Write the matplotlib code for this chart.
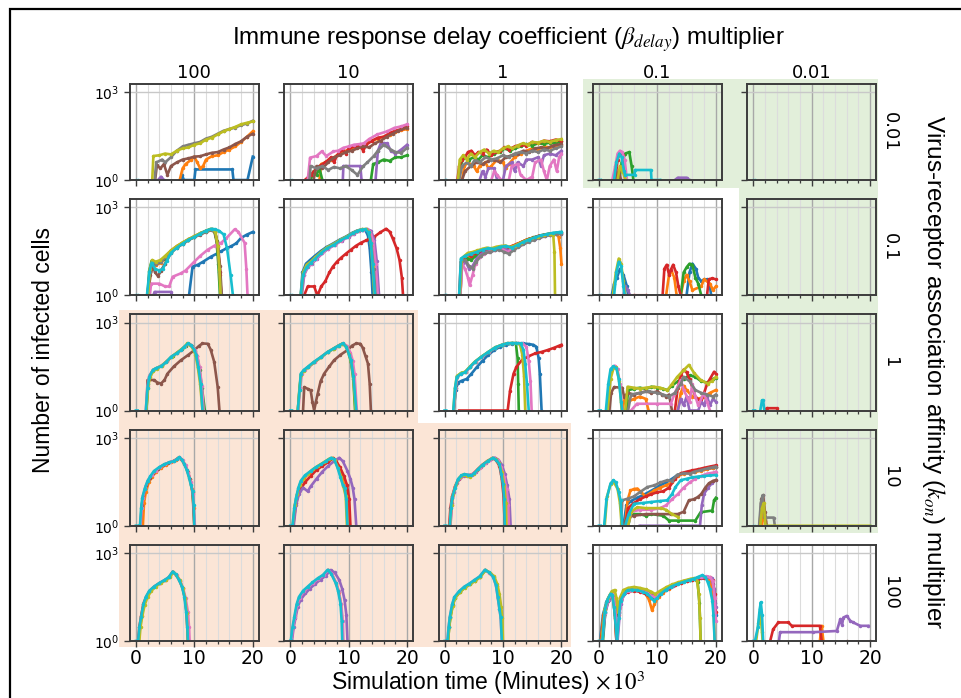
import numpy as np
import matplotlib.pyplot as plt
from matplotlib.patches import Polygon, Rectangle
from matplotlib.ticker import MultipleLocator, NullLocator

GAP = (np.nan, np.nan)

beta_labels = ["100", "10", "1", "0.1", "0.01"]
kon_labels = ["0.01", "0.1", "1", "10", "100"]

# each panel: replicate run -> [(time x10^3 min, infected cells), ...]
# rows: k_on multiplier, columns: beta_delay multiplier

# ---- k_on x0.01 ----
r0c0 = {
    0: [(7.6, 1), (7.9, 1.5), (8.2, 1), (10, 1), (10.2, 2.3), (16.5, 2.3), (16.7, 1), (19.1, 1), (20, 6.3)],
    1: [(7.5, 1), (8, 2.5), (8.5, 3.5), (9.5, 5), (10, 6.3), (10.5, 4), (11, 2.5), (11.5, 3), (12, 5),
        (13, 6.5), (14, 7), (15, 9), (16, 11), (17, 14), (18, 20), (19, 30), (20, 46)],
    4: [(3.8, 1), (4.3, 1.3), (4.8, 1)],
    5: [(3.3, 1), (3.6, 3.2), (4.2, 2.5), (4.8, 3.5), (5.4, 1.5), (6, 3), (7, 4), (8, 5), (9, 5.5), (10, 6.3),
        (11, 6.5), (12, 7.5), (13, 8.5), (14, 9), (15, 11), (16, 13), (17, 17), (18, 21), (19, 30), (20, 38)],
    7: [(3.2, 1), (3.5, 4), (4.5, 5), (5, 4), (6, 6), (7, 10), (8, 14), (9, 16), (10, 18), (11, 20),
        (12, 26), (13, 30), (14, 38), (15, 48), (16, 55), (17, 62), (18, 75), (19, 85), (20, 105)],
    8: [(2.8, 1), (3.0, 6.6), (4, 7), (5, 8), (6, 7.5), (7, 10), (8, 12), (9, 13), (10, 16), (11, 18),
        (12, 24), (13, 28), (14, 36), (15, 46), (16, 55), (17, 65), (18, 80), (19, 90), (20, 100)],
    9: [(0, 1), (0.3, 1)],
}
r0c1 = {
    1: [(5, 1), (5.3, 3.5), (6, 4), (7, 5), (8, 7), (9, 9), (10, 11), (11, 12), (12, 15), (13, 18),
        (14, 22), (15, 26), (16, 30), (17, 35), (18, 42), (19, 50), (20, 55)],
    2: [(3.5, 1), (4, 2), (4.5, 1.5), (5, 2.5), (5.5, 1), GAP, (13.8, 1), (14.2, 3.5), (15, 4), (16, 5),
        (17, 4.5), (18, 6), (19, 6), (20, 7)],
    3: [(2.5, 1), (3.5, 1.5), (4.5, 2.5), (5, 3), (6, 4), (7, 6), (7.5, 4), (8, 7), (9, 11), (9.5, 8),
        (10, 12), (11, 14), (12, 14), (12.5, 10), (13, 16), (14, 22), (15, 28), (16, 30), (17, 40),
        (18, 48), (19, 55), (20, 70)],
    4: [(9, 1), (9.1, 3), (12, 3), (12.2, 1), GAP, (14.6, 1), (15, 10), (15.5, 18), (16.6, 18), (17.2, 10),
        (18, 8), (19, 11), (20, 16)],
    5: [(4, 1), (4.5, 3), (5.5, 2.5), (6.5, 4), (7.5, 6), (8.5, 7), (9.5, 9), (10.5, 10), (11.5, 12),
        (12.5, 14), (13.5, 13), (14.5, 18), (15.5, 22), (16.5, 30), (17.5, 38), (18.5, 48), (20, 62)],
    6: [(3.0, 1), (3.4, 5.8), (4.5, 6.6), (5.4, 9.5), (6.2, 6.6), (7.4, 9.5), (8.2, 10), (9.1, 12.6),
        (10, 14), (10.9, 16), (12, 17), (12.6, 18), (13.5, 25), (14.9, 36), (16.6, 46), (17.8, 60),
        (19, 68), (20, 80)],
    7: [(3.3, 1), (3.5, 3), (4.5, 2.5), (5.5, 3), (6.5, 2.2), (7.5, 2.8), (8.5, 2.5), (9.5, 3), (10.5, 2.2),
        (11.5, 1.5), (12.5, 3), (13.2, 4), (14.3, 6.6), (15, 10), (16, 16), (17.2, 11), (18, 9), (19, 8.5),
        (20, 12.6)],
    9: [(0, 1), (0.3, 1)],
}
r0c2 = {
    1: [(3, 1), (3.4, 3), (4, 4), (5, 3), (5.5, 2), (6, 3), (7, 4), (7.5, 2.5), (8, 3), (9, 5), (10, 4),
        (10.5, 2.5), (11, 3.5), (12, 6), (13, 8), (14, 10), (15, 12), (16, 11), (17, 14), (18, 13), (19, 15),
        (20, 16)],
    2: [(2.4, 1), (2.8, 4), (3.5, 6), (4.2, 5), (5, 6), (5.8, 5), (6.5, 7), (7.5, 6), (8.5, 8), (9.5, 9),
        (10.3, 12), (11.2, 10), (12, 12), (13, 14), (14, 17), (15, 15), (16, 18), (17, 17), (18, 19),
        (19, 18), (20, 21)],
    3: [(2.2, 1), (2.5, 3), (3, 5), (3.5, 6), (4, 9), (4.6, 10), (5.2, 7), (5.8, 9), (6.5, 8), (7.2, 11),
        (8, 7), (8.7, 9), (9.5, 10), (10.2, 13), (11, 11), (12, 14), (13, 16), (14, 15), (15, 20), (16, 18),
        (17, 22), (18, 21), (19, 24), (20, 22)],
    4: [(6, 1), (6.5, 2), (7, 1.3), (7.5, 2.5), (8.5, 2.5), (9, 1), (10, 1), (10.5, 3), (11.5, 4), (12, 2),
        (12.5, 4), (13.5, 3), (14, 5), (15, 5), (16, 6), (16.5, 3), (17, 7), (18, 8), (19, 7), (20, 10)],
    5: [(3, 1), (3.5, 2), (4.5, 3), (5.5, 4), (6.5, 3.5), (7.5, 4.5), (8.5, 5), (9.5, 4), (10.5, 6),
        (11.5, 7), (12.5, 8), (13.5, 10), (14.5, 9), (15.5, 12), (16.5, 13), (17.5, 12), (18.5, 15), (20, 17)],
    6: [(8, 1), (8.5, 2), (9, 1.5), (9.7, 1), (11, 1), (11.5, 3), (12.5, 3.5), (13, 1.5), (14, 1),
        (15, 1.3), (15.5, 4), (16.5, 5), (17, 2), (17.5, 1), (18, 3), (18.7, 5), (19.2, 2), (19.6, 6), (20, 8)],
    7: [(2.5, 1), (3, 3), (3.8, 4), (4.5, 3), (5.2, 5), (6, 4), (7, 6), (8, 5), (9, 5.5), (10, 7), (11, 6),
        (12, 8), (13, 9), (14, 8), (15, 10), (16, 9), (17, 11), (18, 10), (19, 12), (20, 14)],
    8: [(2.3, 1), (2.6, 5), (3.2, 7), (3.8, 5), (4.5, 8), (5.2, 6), (6, 9), (6.8, 11), (7.6, 8), (8.4, 10),
        (9.2, 9), (10, 12), (10.8, 14), (11.6, 12), (12.5, 15), (13.4, 18), (14.2, 16), (15, 20), (16, 19),
        (17, 22), (18, 20), (19, 23), (20, 25)],
    9: [(0, 1), (0.3, 1), GAP, (2.5, 1), (10, 1)],
}
r0c3 = {
    2: [(3.5, 1), (3.9, 4), (4.5, 8), (5.2, 9), (5.6, 3), (5.9, 1)],
    3: [(2.8, 1), (3.2, 5), (3.6, 9), (4.1, 7), (4.5, 1)],
    4: [(13, 1), (13.5, 1.2), (15, 1.2), (15.5, 1)],
    5: [(3, 1), (3.4, 2), (3.8, 1)],
    6: [(2.3, 1), (2.8, 3), (3.2, 8), (3.6, 10), (4, 9), (4.4, 5), (4.8, 1)],
    8: [(3.2, 1), (3.6, 3), (4, 2), (4.3, 1.5), (4.6, 1)],
    9: [(0, 1), (0.3, 1), GAP, (2.6, 1), (3, 4), (3.5, 8), (3.9, 6), (4.3, 2), (4.5, 1.5), (6.1, 1.5),
        (6.2, 2.2), (8.9, 2.2), (9, 1), (10.5, 1)],
}
r0c4 = {9: [(0, 1), (0.3, 1)]}

# ---- k_on x0.1 ----
r1c0 = {
    0: [(9.1, 1), (9.7, 9.5), (10.6, 11), (11.5, 14), (12.9, 21), (13.8, 26), (14.6, 32), (15.5, 40),
        (16.3, 47), (17.2, 60), (18, 91), (19, 118), (20, 145)],
    1: [(2.1, 1), (2.5, 6), (2.9, 13), (3.5, 11), (4.3, 13), (5.2, 19), (6, 31), (7, 44), (8, 59), (9, 79),
        (10, 99), (11, 124), (12, 152), (13, 176), (13.5, 150), (14, 50), (14.4, 5), (14.6, 1)],
    2: [(2.0, 1), (2.3, 7), (2.7, 15), (3.3, 13), (4, 14), (4.8, 18), (6, 32), (7, 45), (8, 62), (9, 80),
        (10, 100), (11, 130), (12, 160), (12.8, 185), (13.4, 160), (13.8, 70), (14.1, 12), (14.4, 1)],
    3: [(2.0, 1), (2.4, 7), (2.8, 14), (3.4, 12), (4.2, 15), (5, 20), (6, 33), (7, 47), (8, 61), (9, 81),
        (10, 102), (11, 128), (12, 156), (13, 178), (13.5, 155), (14, 55), (14.4, 6), (14.6, 1)],
    4: [(3, 1), (3.2, 1.3), (6, 1.3), (6.2, 1)],
    5: [(2.1, 1), (2.5, 5), (2.9, 10), (3.3, 6), (3.8, 4.5), (4.3, 7), (5, 12), (6, 28), (7, 42), (8, 56),
        (9, 76), (10, 96), (11, 118), (12, 145), (13, 170), (13.5, 150), (14, 60), (14.4, 10), (14.7, 1)],
    6: [(2.4, 1), (2.6, 2.5), (4, 2.5), (5, 2), (5.7, 2), (6.3, 4.3), (7.7, 5.6), (8.5, 7), (10, 14),
        (11, 22), (12.3, 36), (13.5, 50), (14.6, 62), (15.5, 90), (16.9, 178), (17.5, 150), (18.6, 62),
        (18.9, 8), (19.1, 1)],
    7: [(2.0, 1), (2.4, 6), (2.8, 13), (3.5, 12), (4.3, 14), (5.2, 20), (6, 30), (7, 44), (8, 58), (9, 78),
        (10, 98), (11, 122), (12, 150), (13, 175), (13.6, 140), (14, 45), (14.3, 6), (14.6, 1)],
    8: [(2.1, 1), (2.4, 8), (2.8, 16), (3.4, 14), (4.2, 16), (5, 22), (6, 34), (7, 48), (8, 64), (9, 82),
        (10, 105), (11, 130), (12, 158), (13, 182), (13.6, 150), (14, 50), (14.3, 8), (14.5, 1)],
    9: [(0, 1), (0.3, 1), GAP, (1.9, 1), (2.3, 6), (2.7, 13), (3.3, 8), (4, 7), (4.6, 8), (5.3, 15), (6, 28),
        (7, 42), (8, 58), (9, 78), (10, 98), (11, 125), (12, 160), (13, 185), (13.5, 180), (14.2, 160),
        (15, 120), (15.6, 40), (16.2, 5), (16.6, 1)],
}
r1c1 = {
    0: [(1.8, 1), (2.1, 6), (2.7, 12), (3.4, 16), (4.2, 22), (5.2, 32), (6.2, 44), (7.3, 58), (8.5, 80),
        (9.7, 105), (10.6, 135), (11.4, 160), (12.2, 178), (12.8, 175), (13.3, 110), (13.6, 40), (13.9, 6),
        (14.1, 1)],
    3: [(2.4, 1), (3, 2), (4.1, 2), (4.5, 1.2), (4.7, 1), (5.3, 2), (6, 3), (6.7, 6), (7.3, 9.5), (8, 14),
        (8.7, 19), (9.5, 26), (10.4, 36), (11.2, 48), (12.1, 62), (13, 75), (14.4, 100), (15.4, 140),
        (16.4, 186), (17, 150), (17.5, 91), (18.2, 40), (18.7, 16), (19.1, 4), (19.3, 1)],
    4: [(2, 1), (2.4, 5), (3, 9), (3.7, 12), (4.5, 17), (5.5, 27), (6.5, 39), (7.7, 53), (8.8, 74), (10, 98),
        (10.9, 126), (11.7, 154), (12.5, 172), (13.2, 180), (13.8, 160), (14.4, 80), (14.8, 15), (15.2, 1)],
    6: [(1.9, 1), (2.3, 5), (2.9, 9), (3.6, 12), (4.4, 17), (5.4, 27), (6.4, 39), (7.6, 53), (8.7, 74),
        (9.9, 98), (10.8, 126), (11.6, 154), (12.4, 174), (13.1, 182), (13.7, 150), (14.2, 70), (14.6, 12),
        (15, 1)],
    7: [(1.9, 1), (2.2, 5), (2.8, 10), (3.5, 13), (4.3, 19), (5.3, 29), (6.3, 41), (7.5, 56), (8.6, 77),
        (9.8, 102), (10.7, 130), (11.5, 157), (12.3, 176), (12.9, 180), (13.5, 140), (13.9, 50), (14.3, 8),
        (14.6, 1)],
    8: [(1.8, 1), (2.2, 6), (2.8, 11), (3.5, 14), (4.3, 20), (5.3, 30), (6.3, 43), (7.5, 58), (8.6, 79),
        (9.8, 104), (10.7, 133), (11.5, 160), (12.3, 180), (12.9, 182), (13.4, 150), (13.8, 60), (14.1, 10),
        (14.4, 1)],
    9: [(0, 1), (0.3, 1), GAP, (1.8, 1), (2.2, 5), (2.8, 9), (3.5, 12.6), (4.3, 18), (5.3, 28), (6.3, 40),
        (7.5, 54), (8.6, 75), (9.8, 100), (10.7, 130), (11.5, 158), (12.3, 175), (12.8, 178), (13.4, 140),
        (13.8, 60), (14.1, 12), (14.5, 1)],
}
r1c2 = {
    1: [(2.7, 1), (3, 13), (3.6, 18), (4.3, 20), (5, 24), (5.8, 30), (6.6, 34), (7.4, 32), (8.2, 38), (9, 42),
        (9.8, 44), (10.6, 40), (11.4, 46), (12.2, 54), (13.1, 65), (14, 78), (15, 90), (16, 102), (17, 115),
        (18, 125), (19, 132), (19.5, 100), (19.8, 40), (20, 12)],
    2: [(2.6, 1), (2.9, 15), (3.4, 20), (4, 18), (4.6, 16), (5.3, 22), (6.1, 30), (6.9, 34), (7.7, 36),
        (8.5, 38), (9.3, 44), (10.1, 46), (10.9, 40), (11.7, 46), (12.5, 56), (13.4, 68), (14.3, 82),
        (15.2, 94), (16.1, 106), (17, 118), (18, 128), (19, 134), (20, 140)],
    3: [(2.5, 1), (2.8, 14), (3.3, 20), (3.9, 25), (4.5, 22), (5.2, 28), (6, 32), (6.8, 38), (7.6, 35),
        (8.4, 40), (9.2, 44), (10, 46), (10.8, 42), (11.5, 48), (12.3, 55), (13.2, 66), (14.1, 80), (15, 90),
        (16, 105), (17, 115), (18, 125), (19, 130), (20, 138)],
    4: [(2.7, 1), (3, 10), (3.6, 14), (4.2, 8), (4.8, 10), (5.5, 18), (6.3, 26), (7.1, 30), (7.9, 33),
        (8.7, 36), (9.5, 40), (10.3, 38), (11.1, 34), (11.9, 42), (12.7, 50), (13.6, 62), (14.5, 74),
        (15.4, 86), (16.3, 98), (17.2, 108), (18.1, 116), (19, 124), (20, 128)],
    6: [(2.7, 1), (3, 12), (3.5, 8), (4, 4), (4.3, 2.2), (4.8, 5), (5.3, 12), (6, 20), (6.8, 26), (7.6, 30),
        (8.4, 34), (9.2, 38), (10, 36), (10.8, 30), (11.6, 38), (12.4, 48), (13.3, 58), (14.2, 70),
        (15.1, 82), (16, 95), (17, 108), (18, 118), (19, 124), (20, 130)],
    7: [(2.6, 1), (2.9, 14), (3.5, 16), (4.2, 10), (4.8, 8), (5.4, 14), (6.2, 22), (7, 28), (7.8, 30),
        (8.6, 34), (9.4, 36), (10.2, 30), (11, 26), (11.8, 34), (12.6, 44), (13.5, 55), (14.4, 66),
        (15.3, 78), (16.2, 90), (17.1, 102), (18, 112), (19, 120), (20, 125)],
    8: [(2.6, 1), (2.9, 18), (3.4, 22), (4, 28), (4.8, 30), (5.6, 34), (6.4, 38), (7.2, 42), (8, 40),
        (8.8, 45), (9.6, 48), (10.4, 50), (11.2, 44), (12, 50), (13, 62), (14, 76), (15, 88), (16, 100),
        (17, 112), (18, 120), (18.6, 110), (18.8, 30), (18.9, 1)],
    9: [(0, 1), (0.3, 1), GAP, (2.5, 1), (2.8, 18), (3.5, 22), (4.5, 26), (5.5, 30), (6.5, 36), (7.5, 40),
        (8.5, 38), (9.5, 45), (10.5, 48), (11.5, 42), (12.5, 52), (13.5, 66), (14.5, 80), (15.5, 95),
        (16.5, 110), (17.5, 122), (18.5, 135), (19.5, 142), (20, 145)],
}
r1c3 = {
    0: [(2.2, 1), (2.6, 2.5), (3.1, 4), (3.6, 8), (4.2, 5), (4.8, 2), (5, 1), GAP, (15, 1), (15.5, 6),
        (16, 12), (16.6, 8), (17, 4), (17.5, 3), (18, 3.5), (18.5, 3.5), (19, 2), (19.2, 1)],
    1: [(11.5, 1), (12, 5), (12.4, 7), (12.9, 4), (13.3, 1), GAP, (14, 1), (14.5, 3), (15, 5), (15.5, 3),
        (16, 1.5), (17.5, 2), (18, 3.5), (19, 2.5), (19.5, 1.5), (20, 2)],
    2: [(14, 1), (14.5, 6), (15, 9), (15.5, 12), (16, 11), (16.5, 4), (17, 2.5), (17.5, 1)],
    3: [(6, 1), (8, 1), GAP, (10.9, 1), (11.2, 8), (11.6, 11), (12, 5), (12.3, 7.4), (12.7, 11), (13.2, 6),
        (13.6, 2), (14, 1), GAP, (18.5, 1), (18.8, 3.5), (19.4, 3.8), (20, 3.5)],
    4: [(4.2, 1), (4.5, 2), (5, 1.5), (5.3, 1)],
    8: [(2.4, 1), (2.9, 6), (3.4, 18), (3.8, 12), (4.2, 3), (4.5, 1)],
    9: [(0, 1), (0.3, 1), GAP, (2.6, 1), (3.0, 6), (3.4, 14), (3.8, 10), (4.2, 2), (4.4, 1)],
}
r1c4 = {9: [(0, 1), (0.3, 1)]}

# ---- k_on x1 ----
r2c0 = {
    2: [(1.8, 1), (2.1, 8), (2.4, 16), (3, 25), (3.7, 29), (4.5, 35), (5.4, 50), (6.3, 72), (7.1, 95),
        (7.9, 125), (8.5, 160), (9.1, 190), (9.6, 160), (10.1, 110), (10.5, 70), (10.9, 25), (11.3, 6),
        (11.8, 1)],
    5: [(1.8, 1), (2, 11), (3.1, 11), (3.7, 9), (4.3, 8.3), (4.9, 11), (5.4, 18), (6.5, 32), (7.7, 52),
        (9, 80), (10, 115), (10.8, 160), (11.4, 195), (12.3, 190), (12.8, 120), (13.4, 46), (14, 6.3),
        (14.3, 1)],
    6: [(1.7, 1), (2, 7), (2.3, 15), (2.9, 24), (3.6, 28), (4.4, 34), (5.3, 48), (6.2, 70), (7, 92),
        (7.8, 120), (8.4, 155), (9, 192), (9.5, 170), (10.1, 120), (10.5, 75), (10.9, 30), (11.3, 7),
        (11.6, 1)],
    8: [(1.8, 1), (2.1, 6), (2.4, 14), (3, 22), (3.6, 27), (4.4, 33), (5.2, 46), (6.1, 68), (6.9, 90),
        (7.6, 115), (8.3, 150), (8.8, 195), (9.3, 175), (9.8, 125), (10.2, 80), (10.6, 30), (11, 8), (11.4, 1)],
    9: [(0, 1), (0.3, 1), GAP, (1.7, 1), (2, 6), (2.3, 14), (2.9, 24), (3.5, 28), (4.3, 32), (5.2, 45),
        (6, 68), (7, 90), (7.7, 115), (8.3, 150), (8.9, 195), (9.4, 170), (10, 120), (10.3, 80), (10.7, 30),
        (11.1, 8), (11.4, 1)],
}
r2c1 = {
    2: [(1.3, 1), (1.6, 6), (1.9, 18), (2.4, 24), (3.1, 30), (4.1, 44), (5.3, 66), (6.4, 98), (7.4, 130),
        (8.2, 162), (8.9, 192), (9.5, 160), (10, 90), (10.4, 45), (10.8, 12), (11.1, 1)],
    5: [(2.2, 1), (2.4, 6.3), (3, 5.5), (3.5, 4.9), (3.8, 2), (4.1, 1), (4.4, 2), (4.7, 3.7), (5.2, 10),
        (5.8, 18), (6.7, 32), (7.5, 52), (8.6, 80), (9.8, 115), (10.6, 165), (11.3, 195), (12, 190),
        (12.4, 140), (12.9, 70), (13.3, 40), (13.6, 8), (13.8, 1)],
    6: [(1.4, 1), (1.7, 6), (2, 18), (2.5, 25), (3.2, 32), (4.2, 46), (5.4, 70), (6.5, 102), (7.6, 135),
        (8.4, 170), (9.1, 195), (9.7, 160), (10.3, 95), (10.7, 50), (11, 18), (11.4, 1)],
    8: [(1.3, 1), (1.6, 5), (1.8, 16), (2.3, 23), (3, 30), (4, 44), (5.3, 67), (6.4, 99), (7.5, 131),
        (8.3, 164), (9, 194), (9.6, 152), (10.1, 82), (10.4, 50), (10.8, 14), (11.2, 1)],
    9: [(0, 1), (0.3, 1), GAP, (1.3, 1), (1.6, 5), (1.8, 18), (2.3, 24), (3, 31), (4, 45), (5.3, 68),
        (6.4, 100), (7.5, 132), (8.3, 165), (9, 195), (9.6, 150), (10.1, 80), (10.4, 52), (10.8, 15),
        (11.3, 1)],
}
r2c2 = {
    0: [(1.6, 1), (1.9, 5), (2.3, 9), (3, 10.5), (3.8, 12), (4.6, 18), (5.5, 30), (6.5, 50), (7.5, 80),
        (8.5, 115), (9.5, 150), (10.5, 175), (11.5, 190), (12.5, 195), (13.5, 195), (14.5, 185),
        (15.2, 175), (15.7, 150), (16.1, 60), (16.3, 18), (16.6, 1)],
    2: [(1.6, 1), (1.9, 6), (2.2, 15), (2.9, 19), (3.6, 21), (4.4, 31), (5.3, 47), (6.4, 70), (7.6, 102),
        (8.7, 142), (9.9, 176), (10.8, 196), (11.5, 200), (12.2, 195), (12.5, 60), (12.6, 8), (12.7, 1)],
    3: [(2.5, 1), (10.8, 1), (11.2, 4.7), (11.8, 18), (12.3, 31), (13.2, 52), (14.3, 70), (15.5, 89),
        (16.6, 100), (17.7, 117), (18.8, 140), (19.5, 160), (20, 175)],
    6: [(1.6, 1), (1.9, 6), (2.2, 14), (2.9, 18), (3.6, 20), (4.4, 30), (5.3, 46), (6.4, 68), (7.6, 100),
        (8.7, 140), (9.9, 175), (10.8, 195), (11.6, 200), (12.5, 200), (13.3, 198), (14, 150), (14.4, 50),
        (14.7, 10), (14.9, 1)],
    8: [(1.5, 1), (1.8, 6), (2.1, 15), (2.8, 19), (3.5, 21), (4.3, 31), (5.2, 47), (6.3, 69), (7.5, 101),
        (8.6, 141), (9.8, 176), (10.7, 196), (11.5, 201), (12.3, 200), (12.9, 180), (13.3, 80), (13.6, 15),
        (13.8, 1)],
    9: [(0, 1), (0.3, 1), GAP, (1.5, 1), (1.8, 6), (2.1, 14), (2.8, 18), (3.5, 20), (4.3, 30), (5.2, 46),
        (6.3, 68), (7.5, 100), (8.6, 140), (9.8, 175), (10.7, 195), (11.5, 200), (12.3, 200), (13, 195),
        (13.5, 120), (13.8, 40), (14.1, 8), (14.4, 1)],
}
r2c3 = {
    1: [(4, 1), (4.5, 3), (5, 2), (6, 2.5), (7, 3), (8, 2.5), (8.5, 1), GAP, (13.5, 1), (14, 4), (14.5, 7),
        (15, 5), (16, 3), (17, 2.5), (18, 3), (19, 4), (20, 5)],
    2: [(4.7, 1), (5, 5), (6, 5.5), (7, 6), (8, 5.5), (9, 6.5), (10, 6), (11, 5.5), (11.7, 5), (12.5, 7),
        (13.5, 10), (14.5, 12), (15.5, 16), (16.5, 14), (17.5, 10), (18.5, 9), (19.5, 12), (20, 13)],
    3: [(13, 1), (13.5, 6), (14, 16), (14.5, 25), (15, 20), (15.5, 12), (16, 6), (16.5, 3), (17.5, 2),
        (18, 4), (18.5, 8), (19, 12), (19.7, 21), (20, 18)],
    4: [(13.5, 1), (14, 2.5), (14.5, 1.5), (15, 3), (15.5, 1), (17, 1), (17.5, 2), (18, 1.5), (18.5, 3),
        (19, 1.5), (19.5, 2.5), (20, 2)],
    5: [(1.8, 1), (2.1, 4), (2.6, 6.3), (4, 6), (4.3, 3), (5, 4), (6, 3.5), (7, 4), (8, 4.5), (9, 4),
        (10, 4.5), (10.8, 3.5), (11.5, 3), (12, 3.5), (12.5, 1)],
    6: [(1.4, 1), (1.8, 10), (2.2, 28), (2.7, 34), (3.2, 26), (3.6, 8), (4, 1), GAP, (5.5, 1), (6.5, 1.7),
        (10, 1.7), (12.3, 1.7), (13, 4), (14, 11), (14.5, 5), (15.5, 2), (16, 8), (16.5, 3), (17, 1.5),
        (18, 4), (18.5, 2), (19, 1)],
    7: [(5, 1), (5.5, 3.5), (7, 4), (8.5, 4.5), (10, 4), (11, 3.5), (12, 3), (13, 4), (14, 8), (14.5, 14),
        (15.5, 10), (16.5, 5), (17.5, 4), (18.5, 3.5), (19.5, 3), (20, 3.5)],
    8: [(1.5, 1), (2, 12), (2.5, 28), (3, 30), (3.5, 10), (3.9, 1), GAP, (4.5, 1), (4.9, 6.5), (6, 6),
        (7.1, 5.6), (8, 6), (9.4, 6.5), (10.5, 6), (11.7, 4.9), (12.5, 8), (13.4, 14), (14.5, 24),
        (15.4, 36), (16.3, 19), (17.4, 11), (18.6, 8.3), (19.3, 10), (20, 14)],
    9: [(0, 1), (0.3, 1), GAP, (1.2, 1), (1.6, 8), (2, 26), (2.5, 32), (3, 28), (3.4, 12), (3.8, 2), (4, 1)],
}
r2c4 = {
    3: [(2, 1), (2.3, 1.2), (4, 1.2), (4.2, 1)],
    9: [(0, 1), (0.3, 1), GAP, (1.2, 1), (1.5, 2.2), (1.7, 2.2), (1.9, 1)],
}

# ---- k_on x10 ----
r3c0 = {
    1: [(1.2, 1), (1.4, 6), (1.7, 14), (2.2, 30), (2.8, 48), (3.5, 70), (4.3, 95), (5.2, 122), (6, 145),
        (6.8, 175), (7.3, 210), (7.8, 185), (8.3, 130), (8.8, 78), (9.2, 40), (9.6, 18), (9.9, 4), (10, 1)],
    5: [(0.8, 1), (1, 5), (1.3, 11), (1.8, 24), (2.4, 42), (3, 62), (3.8, 90), (4.7, 118), (5.5, 140),
        (6.4, 160), (7, 190), (7.4, 215), (7.9, 175), (8.4, 120), (8.9, 70), (9.3, 38), (9.7, 14), (10, 1)],
    6: [(0.8, 1), (1, 4), (1.2, 9), (1.6, 20), (2.1, 36), (2.7, 54), (3.4, 76), (4.2, 102), (5, 126),
        (5.8, 148), (6.6, 165), (7.2, 200), (7.6, 210), (8, 170), (8.5, 115), (9, 62), (9.4, 30),
        (9.8, 12), (10.1, 1)],
    9: [(0, 1), (0.3, 1), GAP, (0.7, 1), (0.9, 4), (1.1, 9), (1.5, 18), (2, 34), (2.5, 50), (3.1, 74),
        (4, 100), (4.9, 126), (5.7, 145), (6.6, 162), (7.1, 195), (7.4, 219), (7.9, 180), (8.3, 126),
        (8.7, 80), (9.1, 44), (9.4, 25), (9.7, 15), (9.9, 5), (10, 1)],
}
r3c1 = {
    1: [(0.5, 1), (0.8, 5), (1.2, 12), (1.7, 26), (2.4, 42), (3.2, 62), (4.1, 88), (5, 115), (6, 155),
        (6.8, 195), (7.3, 205), (7.9, 150), (8.5, 80), (9, 38), (9.4, 18), (9.8, 5), (10, 1)],
    3: [(0.5, 1), (1, 6), (1.5, 14), (2.5, 30), (3.5, 50), (4.5, 80), (5.5, 110), (6.5, 150), (7.3, 200),
        (7.8, 170), (8.5, 100), (9.2, 50), (9.7, 25), (10.1, 8), (10.3, 1)],
    4: [(0.6, 1), (1, 5), (1.5, 12), (2.2, 20), (3, 15), (3.5, 22), (4.5, 40), (5.5, 70), (6.5, 110),
        (7.5, 160), (8.4, 209), (9, 160), (9.8, 74), (10.3, 40), (10.7, 20), (11, 8), (11.3, 1)],
    8: [(0.4, 1), (0.8, 5), (1.2, 12), (1.6, 24), (2.2, 40), (3, 60), (3.9, 85), (4.8, 112), (5.7, 145),
        (6.6, 190), (7.1, 205), (7.6, 170), (8.2, 95), (8.7, 45), (9.1, 22), (9.5, 10), (9.7, 1)],
    9: [(0, 1), (0.3, 1), GAP, (0.4, 1), (0.7, 4), (1, 9), (1.4, 20), (1.8, 34), (2.5, 52), (3.5, 74),
        (4.4, 100), (5.3, 126), (6.2, 165), (7, 209), (7.5, 190), (8.1, 95), (8.6, 45), (9, 25), (9.3, 20),
        (9.6, 8), (9.8, 1)],
}
r3c2 = {
    3: [(0.8, 1), (1, 4), (1.3, 10), (1.8, 22), (2.4, 40), (3, 50), (3.6, 54), (4.2, 52), (4.9, 60),
        (5.6, 82), (6.4, 118), (7.3, 160), (8.2, 205), (8.8, 175), (9.4, 110), (9.8, 40), (10.1, 10),
        (10.3, 1)],
    4: [(1, 1), (1.3, 6), (1.6, 14), (2.1, 28), (2.7, 42), (3.3, 50), (4, 50), (4.7, 55), (5.4, 70),
        (6.2, 100), (7.1, 140), (8, 185), (8.6, 210), (9.2, 180), (9.8, 120), (10.3, 60), (10.7, 25),
        (11.1, 8), (11.3, 1)],
    6: [(1, 1), (1.2, 5), (1.5, 12), (2, 26), (2.6, 44), (3.2, 54), (3.8, 55), (4.5, 54), (5.2, 66),
        (6, 95), (6.9, 135), (7.8, 180), (8.5, 210), (9.1, 170), (9.7, 100), (10.2, 45), (10.6, 18),
        (10.9, 5), (11, 1)],
    8: [(0.9, 1), (1.2, 5), (1.5, 12), (2, 26), (2.6, 46), (3.2, 56), (3.8, 50), (4.4, 48), (5, 58),
        (5.7, 84), (6.5, 118), (7.3, 160), (8.2, 205), (8.8, 185), (9.3, 135), (9.8, 70), (10.2, 25),
        (10.5, 6), (10.6, 1)],
    9: [(0, 1), (0.3, 1), GAP, (0.9, 1), (1.1, 4), (1.3, 9), (1.8, 20), (2.3, 39), (2.9, 52), (3.4, 58),
        (4, 55), (4.6, 52), (5.1, 62), (5.7, 85), (6.5, 120), (7.4, 162), (8.3, 209), (8.8, 180),
        (9.4, 126), (9.7, 60), (10, 26), (10.2, 8), (10.3, 1)],
}
r3c3 = {
    0: [(4.2, 1), (4.7, 5), (5.5, 7), (6.5, 9), (7.5, 11), (8.5, 14), (9.5, 18), (10.5, 24), (11.5, 30),
        (12.5, 40), (13.5, 55), (14.5, 62), (15.5, 70), (16.5, 75), (17.5, 82), (18.5, 88), (19.5, 95),
        (20, 100)],
    1: [(4.5, 1), (4.9, 7.4), (5.4, 16), (6, 18), (6.6, 18.6), (7.2, 14), (8, 10), (8.5, 12), (9.5, 16),
        (10.5, 20), (11.5, 24), (12.5, 30), (13.5, 50), (14.5, 60), (15.5, 65), (16.5, 70), (17.5, 75),
        (18.5, 85), (19.5, 95), (20, 100)],
    2: [(5, 1), (5.5, 2.5), (7, 2.5), (8, 2.2), (9, 2.5), (11, 2.2), (12, 1.5), (13.5, 1.5), (16.5, 1.5),
        (17.4, 2.9), (19.4, 3.3), (19.7, 7.4), (20, 9)],
    3: [(4.5, 1), (5, 4), (6, 6), (7, 8), (8, 10), (9, 12), (10, 14), (11, 15), (12, 20), (13, 40),
        (14, 62), (15, 70), (16, 78), (17, 85), (18, 95), (19, 105), (20, 115)],
    4: [(7, 1), (17.3, 1), (17.6, 5), (18, 12.6), (18.7, 20), (19.3, 28), (20, 36)],
    5: [(4, 1), (5, 2), (6, 2.2), (8, 2.5), (10, 2.5), (12.3, 2.5), (13.5, 2.5), (14.5, 3), (15.4, 7.4),
        (16.2, 8), (16.9, 9.5), (17.5, 12), (18.2, 20), (18.8, 28), (19.5, 34), (20, 36)],
    6: [(5, 1), (5.5, 3), (7, 3.5), (9, 3.5), (10.5, 4), (11.5, 5), (12.5, 8), (13.5, 12), (14.5, 20),
        (15.5, 30), (16.5, 40), (17.5, 50), (18.5, 60), (19.5, 65), (20, 70)],
    7: [(3.8, 1), (4, 7.4), (5, 8.5), (6, 10), (7, 14), (8.3, 21), (9.5, 24), (10.5, 30), (11.7, 36),
        (12.5, 34), (13.4, 55), (14.5, 62), (15.5, 60), (16.3, 70), (17.5, 80), (18.6, 91), (19.5, 100),
        (20, 105)],
    8: [(1, 1), (1.4, 10), (2, 26), (2.6, 30), (3.2, 18), (3.6, 6), (3.9, 1), GAP, (5, 1), (5.5, 3),
        (6.6, 4.3), (8, 4), (10.6, 4), (11.5, 3.5), (12.5, 2.5), (13.5, 2)],
    9: [(0, 1), (0.3, 1), GAP, (0.9, 1), (1.3, 8), (2, 28), (2.5, 36), (2.9, 30), (3.4, 14), (3.7, 7.4),
        (4, 1), GAP, (4.5, 1), (5.1, 2.5), (6, 5.6), (7.5, 6), (9, 6.5), (10.5, 7), (11.7, 7.4), (12.5, 12),
        (13.1, 21), (14, 36), (15, 40), (16, 45), (17, 48), (18, 50), (19, 52), (20, 54)],
}
r3c4 = {
    1: [(1.5, 1), (1.7, 3), (2, 1.5), (2.3, 1)],
    5: [(1.1, 1), (1.4, 8), (1.7, 11), (2, 3), (2.3, 1)],
    7: [(1, 1), (1.3, 6), (1.6, 11), (1.9, 2), (2, 1.9), (3.5, 1.9), (3.7, 1)],
    8: [(1.2, 1), (1.5, 4), (1.8, 6), (2.1, 1), (20, 1)],
    9: [(0, 1), (0.3, 1), GAP, (2.2, 1), (20, 1)],
}

# ---- k_on x100 ----
r4c0 = {
    3: [(0.4, 1), (0.6, 3), (0.9, 7), (1.3, 19), (1.8, 33), (2.4, 52), (3.2, 73), (4.1, 96), (5, 121),
        (5.7, 152), (6.3, 232), (6.9, 182), (7.5, 112), (8, 64), (8.4, 28), (8.7, 8), (8.9, 1)],
    6: [(0.5, 1), (0.7, 3), (1, 7), (1.4, 18), (1.9, 33), (2.5, 52), (3.3, 74), (4.2, 98), (5.1, 125),
        (5.8, 160), (6.4, 230), (7, 180), (7.6, 110), (8.1, 62), (8.5, 30), (8.9, 10), (9.1, 3), (9.2, 1)],
    8: [(0.6, 1), (0.8, 3), (1.1, 7), (1.5, 17), (2, 31), (2.6, 50), (3.4, 72), (4.3, 96), (5.2, 122),
        (5.9, 155), (6.4, 228), (6.9, 185), (7.5, 118), (8, 66), (8.4, 30), (8.7, 9), (8.9, 1)],
    9: [(0, 1), (0.3, 1), GAP, (0.4, 1), (0.6, 3), (0.9, 6.6), (1.3, 18), (1.7, 32), (2.3, 52), (3.1, 72),
        (4, 95), (4.9, 120), (5.6, 150), (6.3, 234), (6.8, 190), (7.4, 120), (7.9, 70), (8.3, 32),
        (8.6, 10), (8.8, 3), (8.9, 1)],
}
r4c1 = {
    1: [(0.2, 1), (0.5, 3), (0.8, 7), (1.2, 18), (1.6, 31), (2.3, 50), (3.1, 70), (3.9, 98), (4.8, 134),
        (5.7, 176), (6.5, 265), (7.1, 195), (7.9, 90), (8.3, 48), (8.7, 18), (8.9, 5), (9, 1)],
    4: [(0.3, 1), (0.6, 3), (0.9, 6), (1.3, 15), (1.8, 26), (2.6, 42), (3.4, 62), (4.3, 90), (5.2, 125),
        (6.1, 170), (6.9, 265), (7.6, 220), (8.4, 120), (8.9, 60), (9.3, 25), (9.6, 8), (9.8, 1)],
    6: [(0.2, 1), (0.5, 3), (0.8, 6.5), (1.2, 17), (1.6, 30), (2.3, 49), (3.1, 70), (3.9, 97), (4.8, 133),
        (5.7, 175), (6.5, 268), (7.1, 198), (7.9, 92), (8.3, 50), (8.7, 19), (9, 5), (9.1, 1)],
    9: [(0, 1), (0.3, 1), GAP, (0.1, 1), (0.4, 3), (0.7, 6.6), (1.1, 18), (1.5, 32), (2.2, 52), (3, 72),
        (3.8, 100), (4.7, 138), (5.6, 180), (6.4, 270), (7, 200), (7.8, 93), (8.2, 50), (8.6, 19),
        (8.8, 5), (8.9, 1)],
}
r4c2 = {
    2: [(0.6, 1), (0.8, 3), (1, 6.6), (1.4, 17), (1.8, 30), (2.6, 47), (3.5, 68), (4.3, 86), (5.2, 115),
        (6.1, 155), (7, 265), (7.7, 215), (8.4, 150), (8.9, 75), (9.2, 30), (9.5, 11), (9.7, 6), (9.9, 1)],
    6: [(0.5, 1), (0.7, 3), (0.9, 6.4), (1.3, 17), (1.7, 31), (2.5, 49), (3.4, 70), (4.2, 88), (5.1, 118),
        (6, 158), (6.9, 266), (7.6, 218), (8.3, 156), (8.8, 78), (9.1, 31), (9.4, 12), (9.6, 6.5), (9.8, 1)],
    8: [(0.6, 1), (0.8, 3), (1, 6), (1.4, 16), (1.8, 29), (2.6, 46), (3.5, 66), (4.3, 85), (5.2, 112),
        (6.1, 150), (7, 260), (7.8, 215), (8.5, 160), (9, 90), (9.4, 40), (9.7, 14), (9.9, 6), (10, 1)],
    9: [(0, 1), (0.3, 1), GAP, (0.5, 1), (0.7, 3), (0.9, 6.6), (1.3, 18), (1.7, 32), (2.5, 50), (3.4, 72),
        (4.2, 90), (5.1, 120), (6, 160), (6.9, 269), (7.6, 220), (8.3, 158), (8.8, 80), (9.1, 32),
        (9.4, 12), (9.6, 6.6), (9.8, 1)],
}
r4c3 = {
    0: [(0.2, 1), (0.7, 8), (1.3, 22), (1.9, 38), (2.4, 30), (2.8, 6), (3, 1), (3.4, 9), (4.1, 36), (5, 50),
        (6, 55), (7, 50), (8, 42), (9, 32), (9.6, 30), (10.4, 42), (11.4, 56), (12.4, 72), (13.4, 90),
        (14.4, 105), (15.4, 118), (16.4, 130), (17.4, 142), (18.4, 150), (19.2, 145), (19.6, 90),
        (19.9, 20), (20, 8)],
    1: [(0.3, 1), (0.8, 8), (1.4, 22), (2, 38), (2.4, 30), (2.7, 10), (3, 1), (3.4, 8), (4, 35), (5, 50),
        (6, 55), (7, 52), (8, 40), (8.6, 25), (9.1, 11), (9.5, 18), (10.2, 32), (11, 45), (12, 62), (13, 80),
        (14, 95), (15, 110), (16, 125), (17, 140), (18, 150), (18.8, 130), (19.2, 80), (19.6, 20), (19.8, 1)],
    2: [(0.7, 1), (1.1, 10), (1.7, 28), (2.3, 45), (2.8, 20), (3.1, 3), (3.5, 20), (4.2, 45), (5, 56),
        (6, 60), (7, 58), (8, 52), (9, 42), (9.8, 38), (10.6, 48), (11.6, 62), (12.6, 78), (13.6, 95),
        (14.6, 110), (15.6, 125), (16.4, 135), (16.9, 100), (17.2, 20), (17.4, 1)],
    3: [(0.4, 1), (0.9, 8), (1.5, 24), (2.1, 40), (2.5, 30), (2.8, 8), (3, 1), (3.5, 10), (4.2, 38),
        (5, 48), (6, 52), (7, 48), (8, 40), (9, 30), (9.5, 28), (10.2, 38), (11, 50), (12, 65), (13, 82),
        (14, 98), (15, 110), (16, 120), (17, 130), (18, 140), (19, 150), (19.5, 120), (19.8, 40), (20, 10)],
    4: [(0.6, 1), (1.1, 9), (1.7, 26), (2.3, 40), (2.7, 22), (3, 4), (3.2, 1), (3.7, 18), (4.4, 44),
        (5.4, 55), (6.4, 58), (7.4, 52), (8.4, 45), (9.2, 36), (9.8, 34), (10.6, 46), (11.6, 60),
        (12.6, 76), (13.6, 94), (14.6, 110), (15.6, 124), (16.6, 138), (17.6, 150), (18.6, 158),
        (19.3, 140), (19.7, 60), (20, 15)],
    6: [(0.5, 1), (1, 9), (1.6, 26), (2.2, 42), (2.6, 28), (2.9, 6), (3.1, 1), (3.6, 14), (4.3, 42),
        (5.2, 52), (6.2, 58), (7.2, 52), (8.2, 44), (9, 34), (9.6, 32), (10.4, 44), (11.4, 58), (12.4, 74),
        (13.4, 92), (14.4, 108), (15.4, 122), (16.4, 134), (17.4, 150), (18.4, 160), (19, 150),
        (19.5, 110), (19.8, 30), (20, 5)],
    8: [(0.5, 1), (1, 12), (1.6, 30), (2.2, 50), (2.7, 55), (3, 30), (3.3, 10), (3.6, 30), (4.2, 55),
        (5, 65), (6, 70), (7, 65), (8, 58), (9, 48), (9.6, 40), (10.5, 52), (11.5, 68), (12.5, 85),
        (13.5, 100), (14.5, 115), (15.5, 130), (16.3, 140), (16.8, 110), (17.1, 40), (17.3, 6), (17.4, 1)],
    9: [(0, 1), (0.3, 1), GAP, (0.6, 1), (1, 10), (1.4, 24), (2, 41), (2.3, 36), (2.6, 14), (2.9, 3),
        (3.1, 1), (3.4, 6), (3.7, 24), (4.3, 40), (4.9, 54), (5.7, 56), (6.6, 54), (7.5, 48), (8.3, 41),
        (8.9, 30), (9.4, 24), (10, 30), (10.6, 41), (11.4, 55), (12.3, 71), (13.5, 90), (14.6, 105),
        (15.5, 120), (16.3, 135), (17, 155), (17.7, 178), (18.2, 150), (18.6, 105), (19, 60), (19.4, 24),
        (19.6, 8), (19.8, 1)],
}
r4c4 = {
    1: [(11.4, 1), (11.7, 3.3), (12, 1)],
    3: [(2.9, 1), (3.4, 2.5), (4.3, 4.3), (6, 4.3), (6.6, 3.3), (11.4, 3.3), (11.7, 1)],
    4: [(4.4, 1), (4.6, 2), (10.3, 2), (14.3, 2.2), (14.9, 5.6), (15.2, 3.5), (15.4, 6.3), (16, 7.2),
        (16.6, 4.9), (17.1, 4.3), (18.3, 3.3), (19.7, 3.3)],
    5: [(16, 1), (20, 1)],
    8: [(0.5, 1), (0.9, 4), (1.2, 10), (1.5, 2), (1.6, 1)],
    9: [(0, 1), (0.3, 1), (0.8, 3), (1.1, 12), (1.3, 21), (1.5, 8), (1.7, 1)],
}

panels = [
    [r0c0, r0c1, r0c2, r0c3, r0c4],
    [r1c0, r1c1, r1c2, r1c3, r1c4],
    [r2c0, r2c1, r2c2, r2c3, r2c4],
    [r3c0, r3c1, r3c2, r3c3, r3c4],
    [r4c0, r4c1, r4c2, r4c3, r4c4],
]

# panels with a cleared / sustained infection are grouped by shading
green_cells = {(0, 3), (0, 4), (1, 4), (2, 4), (3, 4)}
orange_cells = {(2, 0), (2, 1), (3, 0), (3, 1), (3, 2), (4, 0), (4, 1), (4, 2)}
GREEN = "#e2efda"
ORANGE = "#fbe5d6"

W, H = 961, 698
fig = plt.figure(figsize=(W / 100, H / 100), dpi=100)
gs = fig.add_gridspec(5, 5, left=130 / W, right=876 / W, top=1 - 84 / H, bottom=1 - 641 / H,
                      wspace=0.2, hspace=0.2)
axes = [[fig.add_subplot(gs[i, j]) for j in range(5)] for i in range(5)]

for i in range(5):
    for j in range(5):
        ax = axes[i][j]
        shaded = (i, j) in green_cells or (i, j) in orange_cells
        ax.set_facecolor("none" if shaded else "white")
        for run, pts in sorted(panels[i][j].items()):
            t, n = np.array(pts, dtype=float).T
            ax.plot(t, n, color=f"C{run}", lw=1.9, marker=".", ms=3)
        ax.set_yscale("log")
        ax.set_ylim(1, 1900)
        ax.set_xlim(-1, 21)
        ax.set_yticks([1, 1000])
        ax.yaxis.set_minor_locator(NullLocator())
        ax.set_xticks([0, 10, 20])
        ax.xaxis.set_minor_locator(MultipleLocator(2))
        ax.grid(which="major", axis="x", color="#a8a8a8", lw=1.0)
        ax.grid(which="minor", axis="x", color="#dcdcdc", lw=0.8)
        ax.grid(which="major", axis="y", color="#c8c8c8", lw=1.0)
        ax.set_axisbelow(True)
        for s in ax.spines.values():
            s.set_color("#3c3c3c")
            s.set_linewidth(1.4)
        ax.tick_params(which="major", length=4, width=1, color="#3c3c3c", labelsize=10)
        ax.tick_params(which="minor", length=2.5, width=0.9, color="#3c3c3c")
        ax.tick_params(axis="x", labelsize=13.5, pad=2)
        if j != 0:
            ax.set_yticklabels([])
        if i != 4:
            ax.set_xticklabels([])
        if i == 0:
            ax.set_title(beta_labels[j], fontsize=13, pad=4)
        if j == 4:
            ax.text(1.11, 0.5, kon_labels[i], rotation=-90, transform=ax.transAxes,
                    ha="center", va="center", fontsize=13)

# shaded backgrounds behind the grouped panels
px, py = 1 / W, 1 / H
a03, a04, a34 = axes[0][3].get_position(), axes[0][4].get_position(), axes[3][4].get_position()
green_poly = [
    (a03.x0 - 10 * px, a03.y1 + 5 * py), (a04.x1 + 2 * px, a03.y1 + 5 * py),
    (a04.x1 + 2 * px, a34.y0 - 7 * py), (a04.x0 - 8 * px, a34.y0 - 7 * py),
    (a04.x0 - 8 * px, a03.y0 - 8 * py), (a03.x0 - 10 * px, a03.y0 - 8 * py),
]
a20, a21, a32, a40 = (axes[2][0].get_position(), axes[2][1].get_position(),
                      axes[3][2].get_position(), axes[4][0].get_position())
orange_poly = [
    (a20.x0 - 11 * px, a20.y1 + 4 * py), (a21.x1 + 5 * px, a20.y1 + 4 * py),
    (a21.x1 + 5 * px, a32.y1 + 7 * py), (a32.x1 + 4 * px, a32.y1 + 7 * py),
    (a32.x1 + 4 * px, a40.y0 - 6 * py), (a20.x0 - 11 * px, a40.y0 - 6 * py),
]
for poly, col in [(green_poly, GREEN), (orange_poly, ORANGE)]:
    fig.add_artist(Polygon(poly, closed=True, transform=fig.transFigure,
                           facecolor=col, edgecolor="none", zorder=-5))

label_font = ["Liberation Sans", "DejaVu Sans"]
fig.text(509 / W, 1 - 40 / H, r"Immune response delay coefficient ($\beta_{delay}$) multiplier",
         ha="center", va="center", fontsize=17.5, family=label_font, math_fontfamily="stix")
fig.text(488 / W, 1 - 683 / H, r"Simulation time (Minutes) $\times\,10^3$",
         ha="center", va="center", fontsize=16.5, family=label_font, math_fontfamily="stix")
fig.text(44 / W, 1 - 350 / H, "Number of infected cells", rotation=90,
         ha="center", va="center", fontsize=16.5, family=label_font)
fig.text(934 / W, 1 - 372 / H, r"Virus-receptor association affinity ($k_{on}$) multiplier",
         rotation=-90, ha="center", va="center", fontsize=17.5, family=label_font,
         math_fontfamily="stix")

# outer frame
fig.add_artist(Rectangle((10 * px, -0.05), 1.2, 1 - 9 * py + 0.05, transform=fig.transFigure,
                         fill=False, edgecolor="black", lw=1.6, zorder=10))

fig.savefig("out.png", dpi=100)
